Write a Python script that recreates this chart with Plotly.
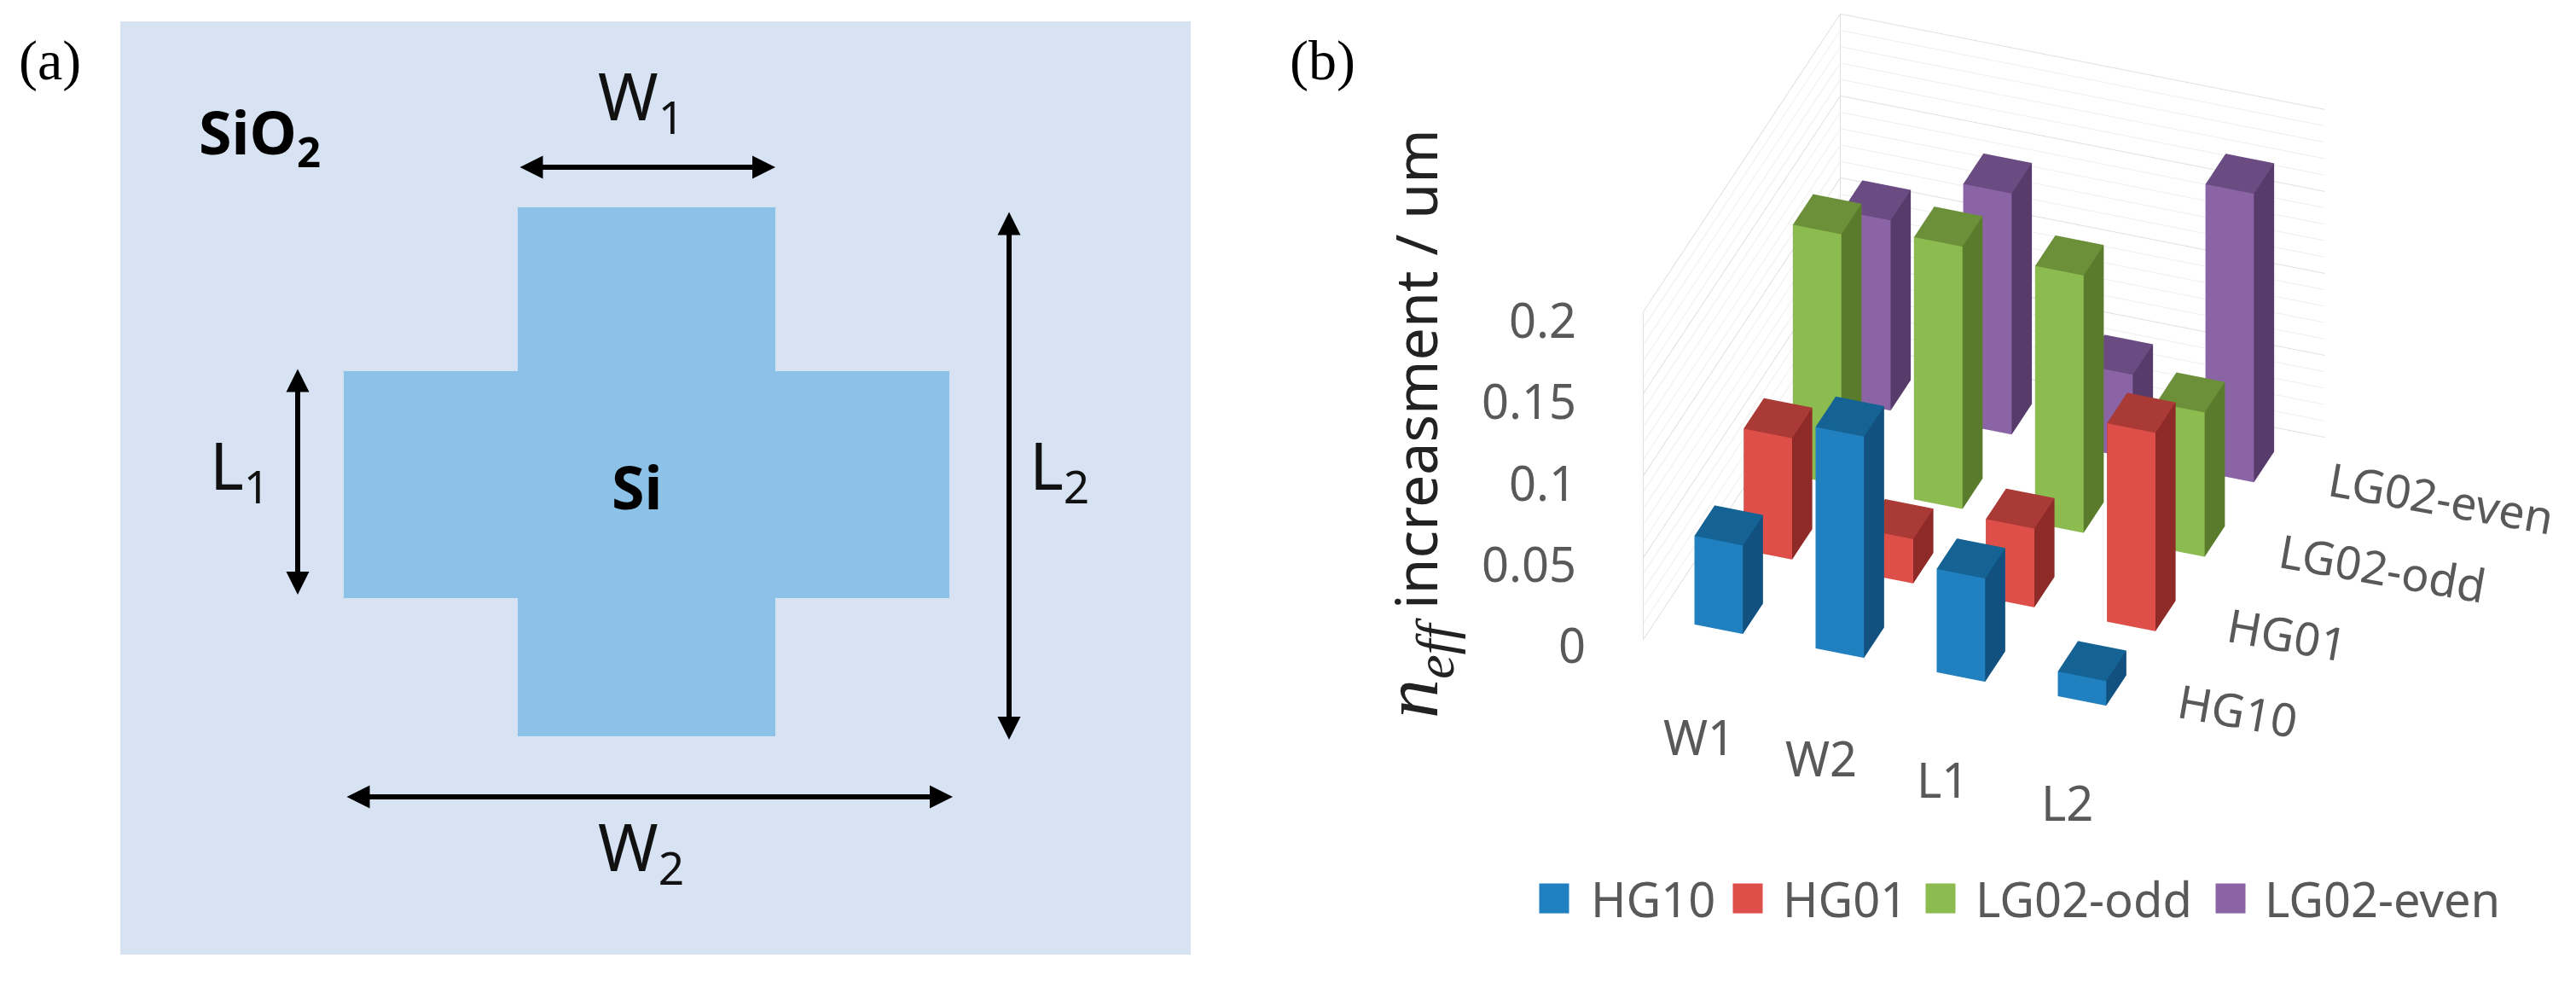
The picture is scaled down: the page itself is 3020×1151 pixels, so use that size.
import plotly.graph_objects as go

W, H = 3020, 1151

# ---- data: panel (b)
params = ["W1", "W2", "L1", "L2"]
modes = ["HG10", "HG01", "LG02-odd", "LG02-even"]
hg10 = [0.054, 0.135, 0.063, 0.015]
hg01 = [0.074, 0.027, 0.048, 0.121]
lg02_odd = [0.153, 0.160, 0.157, 0.088]
lg02_even = [0.116, 0.147, 0.051, 0.176]
grid_minor = [0.01, 0.02, 0.03, 0.04, 0.06, 0.07, 0.08, 0.09, 0.11, 0.12, 0.13, 0.14, 0.16, 0.17, 0.18, 0.19]
grid_major = [0, 0.05, 0.1, 0.15, 0.2]
z_labels = ["0", "0.05", "0.1", "0.15", "0.2"]
series_values = [hg10, hg01, lg02_odd, lg02_even]
front = ["#2080C0", "#DF4F4A", "#8CBB50", "#8A64A5"]
top = ["#156394", "#A93A36", "#6C9039", "#6A4C82"]
side = ["#12517F", "#8E2A28", "#5A7A2C", "#563B6B"]

# ---- data: panel (a) schematic
panel_x = [141, 1396]
panel_y = [25, 1119]
cross_x = [607, 909, 909, 1113, 1113, 909, 909, 607, 607, 403, 403, 607, 607]
cross_y = [243, 243, 435, 435, 701, 701, 863, 863, 701, 701, 435, 435, 243]

fig = go.Figure()

fig.add_trace(go.Scatter(x=[panel_x[0], panel_x[1], panel_x[1], panel_x[0], panel_x[0]],
                         y=[panel_y[0], panel_y[0], panel_y[1], panel_y[1], panel_y[0]],
                         mode="lines", fill="toself", fillcolor="#D7E3F3",
                         line=dict(width=0), hoverinfo="skip", showlegend=False))
fig.add_trace(go.Scatter(x=cross_x, y=cross_y, mode="lines", fill="toself", fillcolor="#8CC2E7",
                         line=dict(width=0), hoverinfo="skip", showlegend=False))

# ---- 3D bars
BW0, BW1 = 0.30, 0.70
BD0, BD1 = 0.30, 0.71
TRI_I = [0, 0, 4, 4, 0, 0, 1, 1, 0, 0, 3, 3]
TRI_J = [1, 2, 5, 6, 1, 5, 2, 6, 3, 7, 2, 6]
TRI_K = [2, 3, 6, 7, 5, 4, 6, 5, 7, 4, 6, 7]
for s, vals in enumerate(series_values):
    xs, ys, zs, ii, jj, kk, fc = [], [], [], [], [], [], []
    for c, v in enumerate(vals):
        n = len(xs)
        x0, x1 = c + BW0, c + BW1
        y0, y1 = s + BD0, s + BD1
        xs += [x0, x1, x1, x0, x0, x1, x1, x0]
        ys += [y0, y0, y1, y1, y0, y0, y1, y1]
        zs += [0, 0, 0, 0, v, v, v, v]
        ii += [n + t for t in TRI_I]
        jj += [n + t for t in TRI_J]
        kk += [n + t for t in TRI_K]
        fc += [top[s]] * 4 + [front[s]] * 2 + [side[s]] * 2 + [side[s]] * 2 + [top[s]] * 2
    fig.add_trace(go.Mesh3d(x=xs, y=ys, z=zs, i=ii, j=jj, k=kk, facecolor=fc, flatshading=True,
                            lighting=dict(ambient=1, diffuse=0, specular=0, roughness=1, fresnel=0),
                            name=modes[s], hoverinfo="skip", showscale=False))


def wall_lines(levels, color, width):
    gx, gy, gz = [], [], []
    for z in levels:
        gx += [0, 0, 4, None]
        gy += [0, 4, 4, None]
        gz += [z, z, z, None]
    fig.add_trace(go.Scatter3d(x=gx, y=gy, z=gz, mode="lines", line=dict(color=color, width=width),
                               hoverinfo="skip", showlegend=False))


wall_lines(grid_minor, "#EFEFEF", 2)
wall_lines(grid_major, "#E0E0E0", 2)
fig.add_trace(go.Scatter3d(x=[0, 0, None, 0, 0], y=[0, 0, None, 4, 4], z=[0, 0.2, None, 0, 0.2], mode="lines",
                           line=dict(color="#E0E0E0", width=2), hoverinfo="skip", showlegend=False))

# ---- legend swatches
legend_x = [1822, 2049, 2275, 2615]
legend_text_x = [1863, 2088, 2314, 2653]
legend_y = 1053
fig.add_trace(go.Scatter(x=legend_x, y=[legend_y] * 4, mode="markers", hoverinfo="skip", showlegend=False,
                         marker=dict(symbol="square", size=35, color=front, line=dict(width=0))))

ann = []


def text(x, y, s, size, color="#000000", family="Noto Sans", angle=0, anchor="center"):
    ann.append(dict(x=x, y=y, xref="x", yref="y", text=s, showarrow=False, textangle=angle, xanchor=anchor,
                    yanchor="middle", font=dict(size=size, color=color, family=family)))


def arrow(x0, y0, x1, y1):
    ann.append(dict(x=x1, y=y1, ax=x0, ay=y0, xref="x", yref="y", axref="x", ayref="y", text="", showarrow=True,
                    arrowhead=2, arrowside="end+start", arrowsize=0.9, arrowwidth=6, arrowcolor="#000000"))


GREY = "#595959"
text(58, 71, "(a)", 66, family="Liberation Serif")
text(1550, 71, "(b)", 66, family="Liberation Serif")
text(304, 158, "<b>SiO<sub>2</sub></b>", 70)
text(747, 570, "<b>Si</b>", 70)
text(751, 116, "W<sub>1</sub>", 76, color="#111111")
text(751, 996, "W<sub>2</sub>", 76, color="#111111")
text(281, 549, "L<sub>1</sub>", 76, color="#111111")
text(1242, 549, "L<sub>2</sub>", 76, color="#111111")
arrow(608, 196, 909, 196)
arrow(405, 934, 1117, 934)
arrow(349, 431, 349, 697)
arrow(1183, 247, 1183, 867)

text(1660, 497,
     "<span style=\"font-family:'Liberation Serif';font-size:92px\"><i>n<sub>eff</sub></i></span> increasment / um",
     68, color="#222222", angle=-90)
for lab, (x, y) in zip(z_labels, [(1861, 755), (1850, 660), (1850, 565), (1850, 469), (1850, 374)]):
    text(x, y, lab, 56, color=GREY, anchor="right")
for lab, x, y in zip(params, [1992, 2135, 2277, 2423], [863, 888, 913, 940]):
    text(x, y, lab, 56, color=GREY)
for lab, x, y in zip(modes, [2623, 2681, 2793, 2862], [832, 743, 665, 583]):
    text(x, y, lab, 54, color=GREY, angle=10)
for lab, x in zip(modes, legend_text_x):
    text(x, legend_y, lab, 56, color=GREY, anchor="left")

# scene viewport centred on the projected centre of the plot box
SCX0, SCX1, SCY0, SCY1 = 1700, 2952, 2, 876
EYE_DIST = 5.0
EYE_DIR = (0.285, -0.789, 0.547)
ZOOM = 1.62

fig.update_layout(
    width=W, height=H, margin=dict(l=0, r=0, t=0, b=0), paper_bgcolor="#FFFFFF", plot_bgcolor="#FFFFFF",
    showlegend=False, annotations=ann,
    xaxis=dict(range=[0, W], visible=False, fixedrange=True),
    yaxis=dict(range=[H, 0], visible=False, fixedrange=True),
    scene=dict(
        domain=dict(x=[SCX0 / W, SCX1 / W], y=[1 - SCY1 / H, 1 - SCY0 / H]),
        bgcolor="rgba(0,0,0,0)",
        aspectmode="manual", aspectratio=dict(x=0.853 * ZOOM, y=0.96 * ZOOM, z=0.648 * ZOOM),
        camera=dict(eye=dict(x=EYE_DIR[0] * EYE_DIST, y=EYE_DIR[1] * EYE_DIST, z=EYE_DIR[2] * EYE_DIST),
                    up=dict(x=0, y=0, z=1), center=dict(x=0, y=0, z=0),
                    projection=dict(type="orthographic")),
        xaxis=dict(range=[0, 4], visible=False),
        yaxis=dict(range=[0, 4], visible=False),
        zaxis=dict(range=[0, 0.2], visible=False),
    ),
)
fig.write_html("out.html", config=dict(displayModeBar=False), post_script="document.body.style.margin='0';")
